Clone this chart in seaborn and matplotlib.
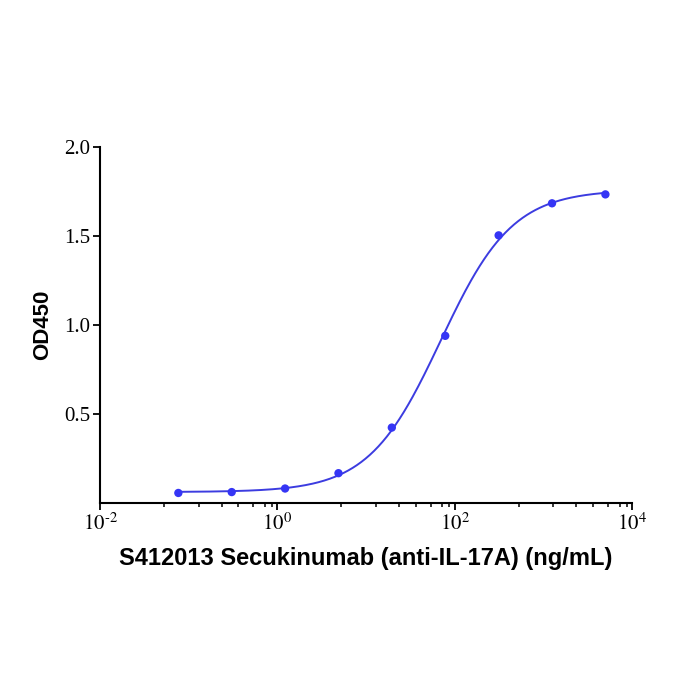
import numpy as np
import pandas as pd
import matplotlib
matplotlib.use("Agg")
import matplotlib.pyplot as plt
import matplotlib.ticker as mticker
import seaborn as sns

# data (4-fold dilution series)
conc = [0.0763, 0.305, 1.22, 4.88, 19.5, 78.1, 312.5, 1250, 5000]
od450 = [0.058, 0.063, 0.083, 0.169, 0.425, 0.94, 1.504, 1.684, 1.734]
xtick_vals = [1e-2, 1e0, 1e2, 1e4]
xtick_labels = [r"$10^{\text{-}2}$", r"$10^{0}$", r"$10^{2}$", r"$10^{4}$"]
ytick_vals = [0.5, 1.0, 1.5, 2.0]
ytick_labels = ["0.5", "1.0", "1.5", "2.0"]
xlabel = "S412013 Secukinumab (anti-IL-17A) (ng/mL)"
ylabel = "OD450"

df = pd.DataFrame({"conc": conc, "od": od450})

# 4PL fit: grid over EC50 / hill, bottom & top by linear least squares
x = df["conc"].values
y = df["od"].values
best = None
for logec in np.linspace(0.5, 3.0, 251):
    for hill in np.linspace(0.5, 2.0, 151):
        s = 1.0 / (1.0 + (10 ** logec / x) ** hill)
        A = np.column_stack([1 - s, s])
        coef, res, _, _ = np.linalg.lstsq(A, y, rcond=None)
        err = np.sum((A @ coef - y) ** 2)
        if best is None or err < best[0]:
            best = (err, logec, hill, coef)
_, logec, hill, (bottom, top) = best
xfit = np.logspace(np.log10(x.min()), np.log10(x.max()), 300)
sfit = 1.0 / (1.0 + (10 ** logec / xfit) ** hill)
fit_df = pd.DataFrame({"conc": xfit, "od": bottom + (top - bottom) * sfit})

sns.set_style("ticks")
plt.rcParams["font.family"] = ["Liberation Serif", "DejaVu Serif"]
plt.rcParams["mathtext.fontset"] = "stix"
plt.rcParams["text.color"] = "black"
plt.rcParams["axes.labelcolor"] = "black"
plt.rcParams["xtick.color"] = "black"
plt.rcParams["ytick.color"] = "black"

fig = plt.figure(figsize=(7, 7), dpi=100)
ax = fig.add_axes([0.143, 0.281, 0.76, 0.509])

sns.lineplot(data=fit_df, x="conc", y="od", color="#3c3ce0", linewidth=1.4, ax=ax)
sns.scatterplot(data=df, x="conc", y="od", color="#3535f5", s=36,
                edgecolor="none", zorder=3, ax=ax)

ax.set_xscale("log")
ax.set_xlim(1e-2, 1e4)
ax.set_ylim(0, 2.0)
ax.set_xticks(xtick_vals)
ax.set_xticklabels(xtick_labels, fontsize=15)
# minor ticks as drawn in the reference (offsets inside each 2-decade block)
minor_off = [0.72, 1.11, 1.37, 1.56, 1.73, 1.86, 1.94]
minors = [10 ** (b + o) for b in (-2, 0, 2) for o in minor_off]
ax.set_xticks(minors, minor=True)
ax.xaxis.set_minor_formatter(mticker.NullFormatter())
ax.set_yticks(ytick_vals)
ax.set_yticklabels(ytick_labels, fontsize=15)

ax.tick_params(axis="both", which="major", length=5, width=1.3, pad=2)
ax.tick_params(axis="x", which="minor", length=3, width=1.1)
sns.despine(ax=ax)
for sp in ("left", "bottom"):
    ax.spines[sp].set_linewidth(1.5)
    ax.spines[sp].set_color("black")

ax.set_xlabel(xlabel, family="Liberation Sans", fontweight="bold", fontsize=17, labelpad=9)
ax.set_ylabel(ylabel, family="Liberation Sans", fontweight="bold", fontsize=16, labelpad=8)

fig.savefig("out.png", dpi=100, facecolor="white")
